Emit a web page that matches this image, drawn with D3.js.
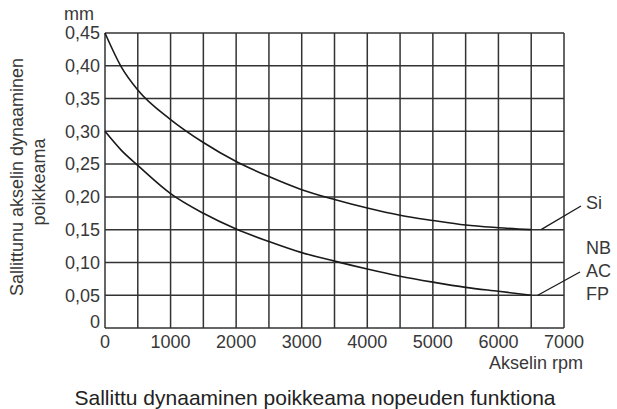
<!DOCTYPE html>
<html>
<head>
<meta charset="utf-8">
<script src="https://cdn.jsdelivr.net/npm/d3@7"></script>
<style>
  body { margin: 0; background: #fff; }
  text { font-family: "Liberation Sans", Arial, sans-serif; fill: #383838; }
</style>
</head>
<body>
<div id="chart"></div>
<script>
'use strict';

// rpm readings and allowed deflection (mm)
const rpm = [0, 250, 500, 1000, 1500, 2000, 2500, 3000, 3500, 4000, 4500, 5000, 5500, 6000, 6500];
const siValues = [0.45, 0.398, 0.363, 0.318, 0.283, 0.254, 0.231, 0.211, 0.196, 0.183, 0.172, 0.164, 0.157, 0.153, 0.150];
const otherValues = [0.30, 0.271, 0.248, 0.205, 0.175, 0.151, 0.132, 0.115, 0.102, 0.090, 0.079, 0.070, 0.062, 0.056, 0.050];

const xTicks = [0, 1000, 2000, 3000, 4000, 5000, 6000, 7000];
const yTicks = [0, 0.05, 0.10, 0.15, 0.20, 0.25, 0.30, 0.35, 0.40, 0.45];
const labels = ["Si", "NB", "AC", "FP"];

const W = 617, H = 409;
const margin = { top: 33, right: 53, bottom: 81, left: 105 };

const svg = d3.select("#chart").append("svg")
    .attr("width", W)
    .attr("height", H);

const x = d3.scaleLinear().domain([0, 7000]).range([margin.left, W - margin.right]);
const y = d3.scaleLinear().domain([0, 0.45]).range([H - margin.bottom, margin.top]);

// grid every 500 rpm / 0.05 mm
const grid = svg.append("g").attr("stroke", "#333").attr("stroke-width", 1.5);
d3.range(0, 7001, 500).forEach(v => {
    grid.append("line").attr("x1", x(v)).attr("x2", x(v)).attr("y1", y(0)).attr("y2", y(0.45));
});
d3.range(0, 10).forEach(i => {
    const v = i * 0.05;
    grid.append("line").attr("x1", x(0)).attr("x2", x(7000)).attr("y1", y(v)).attr("y2", y(v));
});

// curves
const line = d3.line()
    .x(d => x(d[0]))
    .y(d => y(d[1]))
    .curve(d3.curveMonotoneX);

[siValues, otherValues].forEach(vals => {
    svg.append("path")
        .datum(rpm.map((r, i) => [r, vals[i]]))
        .attr("fill", "none")
        .attr("stroke", "#1a1a1a")
        .attr("stroke-width", 1.6)
        .attr("d", line);
});

// leader lines to labels
svg.append("line")
    .attr("x1", x(6650)).attr("y1", y(0.15))
    .attr("x2", 581).attr("y2", 206)
    .attr("stroke", "#1a1a1a").attr("stroke-width", 1.3);
svg.append("line")
    .attr("x1", x(6600)).attr("y1", y(0.05))
    .attr("x2", 580).attr("y2", 272)
    .attr("stroke", "#1a1a1a").attr("stroke-width", 1.3);

const labelY = [203, 248, 271, 294];
labels.forEach((t, i) => {
    svg.append("text")
        .attr("x", 586)
        .attr("y", labelY[i])
        .attr("dy", "0.35em")
        .style("font-size", "18px")
        .text(t);
});

// y tick labels
const fmt = d3.format(".2f");
yTicks.forEach(v => {
    svg.append("text")
        .attr("x", 100)
        .attr("y", v === 0 ? y(v) - 6 : y(v))
        .attr("dy", "0.35em")
        .attr("text-anchor", "end")
        .style("font-size", "18px")
        .text(v === 0 ? "0" : fmt(v).replace(".", ","));
});

svg.append("text")
    .attr("x", 64)
    .attr("y", 20)
    .style("font-size", "18px")
    .text("mm");

// x tick labels
xTicks.forEach(v => {
    svg.append("text")
        .attr("x", x(v))
        .attr("y", 348)
        .attr("text-anchor", "middle")
        .style("font-size", "18px")
        .text(v);
});

svg.append("text")
    .attr("x", 583)
    .attr("y", 369)
    .attr("text-anchor", "end")
    .style("font-size", "18px")
    .text("Akselin rpm");

// y axis title, two lines
svg.append("text")
    .attr("transform", "translate(23,177) rotate(-90)")
    .attr("text-anchor", "middle")
    .style("font-size", "18px")
    .text("Sallittunu akselin dynaaminen");
svg.append("text")
    .attr("transform", "translate(45,182) rotate(-90)")
    .attr("text-anchor", "middle")
    .style("font-size", "18px")
    .text("poikkeama");

// caption
svg.append("text")
    .attr("x", 315)
    .attr("y", 405)
    .attr("text-anchor", "middle")
    .style("font-size", "21px")
    .style("fill", "#222")
    .text("Sallittu dynaaminen poikkeama nopeuden funktiona");
</script>
</body>
</html>
